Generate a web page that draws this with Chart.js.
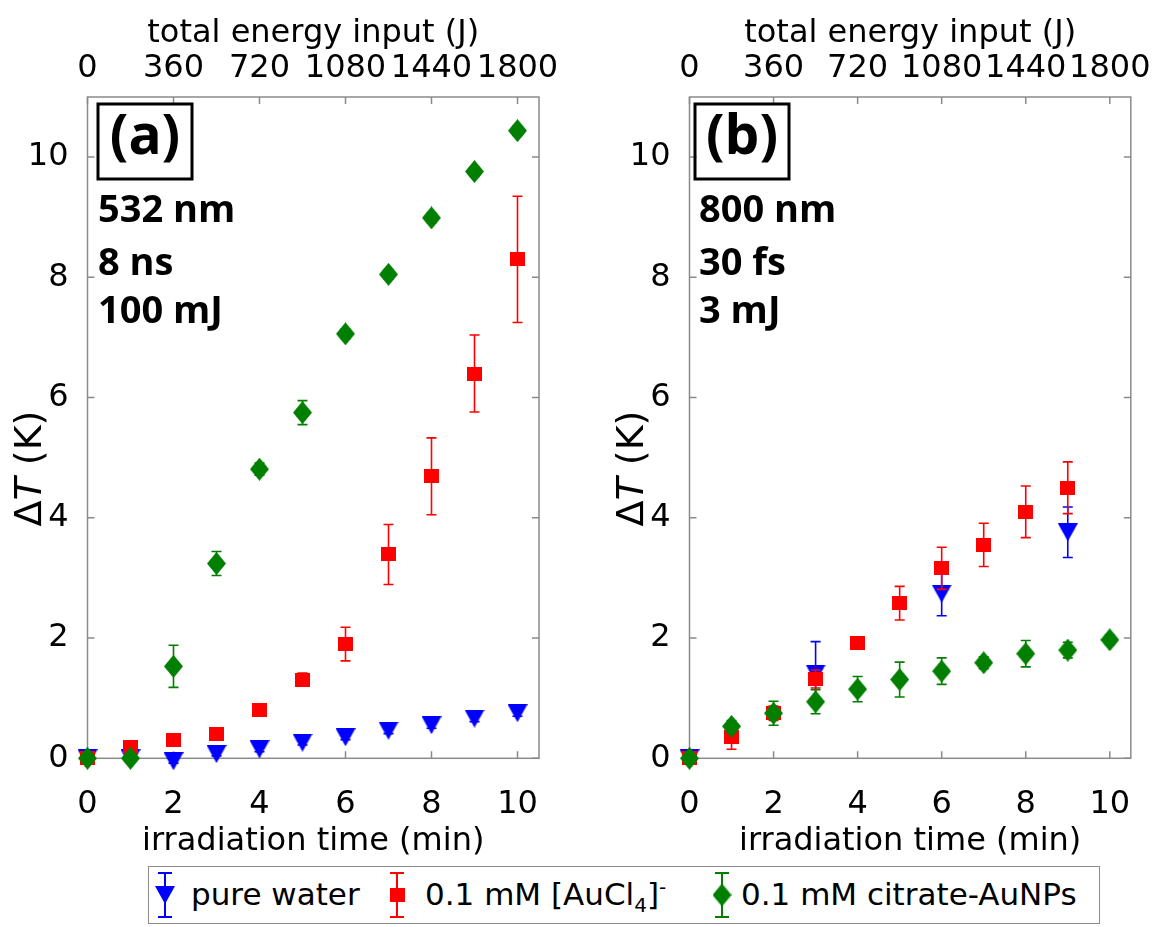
<!DOCTYPE html>
<html>
<head>
<meta charset="utf-8">
<script src="https://cdn.jsdelivr.net/npm/chart.js@4.4.0/dist/chart.umd.min.js"></script>
<style>
    body { margin: 0; background: #fff; width: 1152px; height: 927px; position: relative; overflow: hidden; font-family: 'DejaVu Sans', sans-serif; }
    .panel { position: absolute; top: 0; width: 576px; height: 862px; }
    #legend { position: absolute; left: 148px; top: 866px; width: 952px; height: 58px; border: 1.5px solid #8c8c8c; box-sizing: border-box; font-size: 31px; color: #000; }
    #legend .icon { position: absolute; top: 3px; }
    #legend .txt { position: absolute; top: 8px; white-space: nowrap; line-height: 38px; }
    #legend sub, #legend sup { font-size: 20px; line-height: 0; }
</style>
</head>
<body>
<div class="panel" style="left:0"><canvas id="chartA" width="576" height="862"></canvas></div>
<div class="panel" style="left:576px"><canvas id="chartB" width="576" height="862"></canvas></div>
<div id="legend">
    <canvas class="icon" id="iconWater" width="30" height="50" style="left:1px"></canvas>
    <span class="txt" style="left:42px">pure water</span>
    <canvas class="icon" id="iconAucl" width="30" height="50" style="left:233px"></canvas>
    <span class="txt" style="left:276px">0.1 mM [AuCl<sub>4</sub>]<sup>-</sup></span>
    <canvas class="icon" id="iconAunp" width="30" height="50" style="left:558px"></canvas>
    <span class="txt" style="left:592px">0.1 mM citrate-AuNPs</span>
</div>
<script>
// ============================================
// DATA
// ============================================
const minutes = [0, 1, 2, 3, 4, 5, 6, 7, 8, 9, 10];
const minutesAucl4B = [0, 1, 2, 3, 4, 5, 6, 7, 8, 9];
const minutesWaterB = [0, 3, 6, 9];
const timeTicks = [0, 2, 4, 6, 8, 10];
const energyTicks = [0, 360, 720, 1080, 1440, 1800];
const dTTicks = [0, 2, 4, 6, 8, 10];

// (a) 532 nm, 8 ns, 100 mJ
const waterA = [0, 0, -0.05, 0.07, 0.15, 0.26, 0.35, 0.46, 0.55, 0.66, 0.75];
const waterAErr = [0.03, 0.03, 0.03, 0.03, 0.04, 0.04, 0.04, 0.05, 0.05, 0.05, 0.05];
const aucl4A = [0, 0.19, 0.31, 0.40, 0.80, 1.31, 1.90, 3.39, 4.69, 6.40, 8.30];
const aucl4AErr = [0.03, 0.05, 0.05, 0.05, 0.06, 0.11, 0.28, 0.50, 0.64, 0.64, 1.05];
const aunpA = [0, 0, 1.53, 3.24, 4.81, 5.75, 7.06, 8.05, 8.99, 9.76, 10.44];
const aunpAErr = [0.03, 0.03, 0.35, 0.20, 0.10, 0.20, 0.08, 0.08, 0.08, 0.08, 0.08];

// (b) 800 nm, 30 fs, 3 mJ
const waterB = [0, 1.41, 2.74, 3.76];
const waterBErr = [0.05, 0.53, 0.37, 0.42];
const aucl4B = [0, 0.35, 0.75, 1.32, 1.91, 2.58, 3.16, 3.55, 4.10, 4.50];
const aucl4BErr = [0.05, 0.20, 0.12, 0.15, 0.08, 0.28, 0.35, 0.36, 0.43, 0.43];
const aunpB = [0, 0.53, 0.75, 0.94, 1.15, 1.31, 1.45, 1.59, 1.74, 1.80, 1.97];
const aunpBErr = [0.05, 0.10, 0.20, 0.20, 0.21, 0.29, 0.22, 0.10, 0.22, 0.13, 0.08];

const BLUE = '#0000ff';
const RED = '#ff0000';
const GREEN = '#007f00';
const FRAME = '#8a8a8a';

Chart.defaults.font.family = "'DejaVu Sans', sans-serif";
Chart.defaults.color = '#000';
Chart.defaults.animation = false;

// marker images (Matlab-like 'v' and 'd')
function makeMarker(kind) {
    const c = document.createElement('canvas');
    const ctx = c.getContext('2d');
    if (kind === 'triangle') {
        c.width = 20; c.height = 18;
        ctx.fillStyle = BLUE;
        ctx.beginPath();
        ctx.moveTo(0, 0); ctx.lineTo(20, 0); ctx.lineTo(10, 18);
        ctx.closePath(); ctx.fill();
    } else if (kind === 'diamond') {
        c.width = 19; c.height = 23;
        ctx.fillStyle = GREEN;
        ctx.beginPath();
        ctx.moveTo(9.5, 0); ctx.lineTo(19, 11.5); ctx.lineTo(9.5, 23); ctx.lineTo(0, 11.5);
        ctx.closePath(); ctx.fill();
    } else {
        c.width = 15; c.height = 14;
        ctx.fillStyle = RED;
        ctx.fillRect(0, 0, 15, 14);
    }
    return c;
}
const triangleImg = makeMarker('triangle');
const diamondImg = makeMarker('diamond');
const squareImg = makeMarker('square');

function toPoints(xs, ys) {
    return xs.map((x, i) => ({ x: x, y: ys[i] }));
}

// error bars drawn just before each dataset, so each marker sits on its own bar
const errorBarPlugin = {
    id: 'errorBars',
    beforeDatasetDraw(chart, args) {
        const ds = chart.data.datasets[args.index];
        if (!ds.errors) return;
        const ctx = chart.ctx;
        const yScale = chart.scales.y;
        ctx.save();
        ctx.strokeStyle = ds.errColor;
        ctx.lineWidth = 1.6;
        args.meta.data.forEach((el, i) => {
            const v = ds.data[i].y;
            const e = ds.errors[i];
            const top = yScale.getPixelForValue(v + e);
            const bot = yScale.getPixelForValue(v - e);
            ctx.beginPath();
            ctx.moveTo(el.x, top); ctx.lineTo(el.x, bot);
            ctx.moveTo(el.x - 5, top); ctx.lineTo(el.x + 5, top);
            ctx.moveTo(el.x - 5, bot); ctx.lineTo(el.x + 5, bot);
            ctx.stroke();
        });
        ctx.restore();
    }
};

// grey box with inward ticks on all four sides
const framePlugin = {
    id: 'frame',
    beforeDatasetsDraw(chart) {
        const ctx = chart.ctx;
        const a = chart.chartArea;
        const tl = 7;
        ctx.save();
        ctx.strokeStyle = FRAME;
        ctx.lineWidth = 1.5;
        ctx.strokeRect(a.left, a.top, a.right - a.left, a.bottom - a.top);
        ctx.beginPath();
        chart.scales.x.ticks.forEach(t => {
            const px = chart.scales.x.getPixelForValue(t.value);
            ctx.moveTo(px, a.bottom); ctx.lineTo(px, a.bottom - tl);
        });
        chart.scales.x2.ticks.forEach(t => {
            const px = chart.scales.x2.getPixelForValue(t.value);
            ctx.moveTo(px, a.top); ctx.lineTo(px, a.top + tl);
        });
        chart.scales.y.ticks.forEach(t => {
            const py = chart.scales.y.getPixelForValue(t.value);
            ctx.moveTo(a.left, py); ctx.lineTo(a.left + tl, py);
            ctx.moveTo(a.right, py); ctx.lineTo(a.right - tl, py);
        });
        ctx.stroke();
        ctx.restore();
    }
};

// panel tag, laser parameters and the y axis title (italic T)
const panelTextPlugin = {
    id: 'panelText',
    afterDraw(chart, args, opts) {
        const ctx = chart.ctx;
        const a = chart.chartArea;
        const bx = a.left + opts.boxOffset;
        ctx.save();
        ctx.strokeStyle = '#000';
        ctx.lineWidth = 3;
        ctx.strokeRect(bx, 104, 94, 75);
        ctx.fillStyle = '#000';
        ctx.textAlign = 'center';
        ctx.textBaseline = 'middle';
        ctx.font = "bold 55px 'Open Sans'";
        ctx.fillText(opts.tag, bx + 47, 138);
        ctx.textAlign = 'left';
        ctx.textBaseline = 'alphabetic';
        ctx.font = "bold 38px 'Open Sans'";
        const baselines = [222, 275, 323];
        opts.lines.forEach((s, i) => ctx.fillText(s, a.left + opts.textOffset, baselines[i]));

        // y title
        ctx.translate(a.left - 46.5, 468.5);
        ctx.rotate(-Math.PI / 2);
        const normal = "38px 'DejaVu Sans'";
        const italic = "italic 38px 'DejaVu Sans'";
        const parts = [['\u0394', normal], ['T', italic], [' (K)', normal]];
        let total = 0;
        parts.forEach(p => { ctx.font = p[1]; total += ctx.measureText(p[0]).width; });
        let x = -total / 2;
        parts.forEach(p => {
            ctx.font = p[1];
            ctx.fillText(p[0], x, 0);
            x += ctx.measureText(p[0]).width;
        });
        ctx.restore();
    }
};

function buildScales(yWidth) {
    return {
        x: {
            type: 'linear', position: 'bottom', min: 0, max: 10.5,
            afterBuildTicks: s => { s.ticks = timeTicks.map(v => ({ value: v })); },
            afterFit: s => { s.height = 862 - 758.3; },
            grid: { display: false }, border: { display: false },
            ticks: { font: { size: 32 }, padding: 19, maxRotation: 0, autoSkip: false,
                     callback: v => String(v) },
            title: { display: true, text: 'irradiation time (min)', font: { size: 32 }, padding: { top: 0, bottom: 1 } }
        },
        x2: {
            type: 'linear', position: 'top', min: 0, max: 10.5 * 180,
            afterBuildTicks: s => { s.ticks = energyTicks.map(v => ({ value: v })); },
            afterFit: s => { s.height = 97; },
            grid: { display: false }, border: { display: false },
            ticks: { font: { size: 32 }, padding: 1, maxRotation: 0, autoSkip: false,
                     callback: v => String(v) },
            title: { display: true, text: 'total energy input (J)', font: { size: 32 }, padding: { top: 14, bottom: 0 } }
        },
        y: {
            type: 'linear', position: 'left', min: 0, max: 11,
            afterBuildTicks: s => { s.ticks = dTTicks.map(v => ({ value: v })); },
            afterFit: s => { s.width = yWidth; },
            grid: { display: false }, border: { display: false },
            ticks: { font: { size: 32 }, padding: 11, callback: v => String(v) }
        }
    };
}

function seriesSet(water, waterX, waterErr, aucl, auclX, auclErr, aunp, aunpErr) {
    return [
        { label: 'pure water', data: toPoints(waterX, water), errors: waterErr, errColor: BLUE,
          pointStyle: triangleImg, order: 3, clip: false },
        { label: '0.1 mM [AuCl4]-', data: toPoints(auclX, aucl), errors: auclErr, errColor: RED,
          pointStyle: squareImg, order: 2, clip: false },
        { label: '0.1 mM citrate-AuNPs', data: toPoints(minutes, aunp), errors: aunpErr, errColor: GREEN,
          pointStyle: diamondImg, order: 1, clip: false }
    ];
}

function makeChart(id, datasets, yWidth, rightPad, panelOpts) {
    return new Chart(document.getElementById(id), {
        type: 'scatter',
        data: { datasets: datasets },
        options: {
            responsive: false,
            layout: { padding: { left: 0, right: rightPad, top: 0, bottom: 0 } },
            scales: buildScales(yWidth),
            plugins: {
                legend: { display: false },
                tooltip: { enabled: false },
                panelText: panelOpts
            }
        },
        plugins: [framePlugin, errorBarPlugin, panelTextPlugin]
    });
}

makeChart('chartA',
    seriesSet(waterA, minutes, waterAErr, aucl4A, minutes, aucl4AErr, aunpA, aunpAErr),
    87.5, 37, { tag: '(a)', lines: ['532 nm', '8 ns', '100 mJ'], boxOffset: 10.5, textOffset: 10.5 });

makeChart('chartB',
    seriesSet(waterB, minutesWaterB, waterBErr, aucl4B, minutesAucl4B, aucl4BErr, aunpB, aunpBErr),
    113.5, 10, { tag: '(b)', lines: ['800 nm', '30 fs', '3 mJ'], boxOffset: 5.5, textOffset: 9.5 });

// legend icons: marker on an error bar
function drawIcon(id, img, color) {
    const c = document.getElementById(id);
    const ctx = c.getContext('2d');
    ctx.strokeStyle = color;
    ctx.lineWidth = 2;
    ctx.beginPath();
    ctx.moveTo(15, 3); ctx.lineTo(15, 47);
    ctx.moveTo(8, 3); ctx.lineTo(22, 3);
    ctx.moveTo(8, 47); ctx.lineTo(22, 47);
    ctx.stroke();
    ctx.drawImage(img, 15 - img.width / 2, 25 - img.height / 2);
}
drawIcon('iconWater', triangleImg, BLUE);
drawIcon('iconAucl', squareImg, RED);
drawIcon('iconAunp', diamondImg, GREEN);
</script>
</body>
</html>
